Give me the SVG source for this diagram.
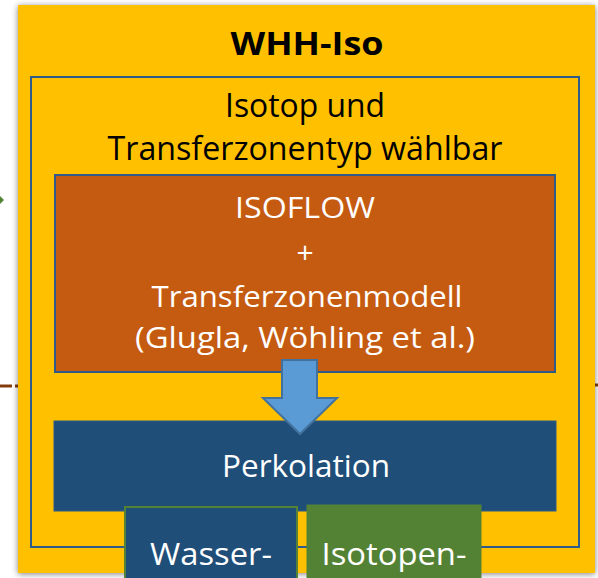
<svg xmlns="http://www.w3.org/2000/svg" width="598" height="578" viewBox="0 0 598 578">
<style>
  .t { font-family: "Open Sans", "Liberation Sans", sans-serif; text-anchor: middle; }
  .dark { fill: #000000; }
  .light { fill: #ffffff; }
</style>
<defs>
  <filter id="sh" x="-5%" y="-5%" width="110%" height="110%">
    <feGaussianBlur in="SourceAlpha" stdDeviation="3"/>
    <feOffset dx="0" dy="1"/>
    <feComponentTransfer><feFuncA type="linear" slope="0.5"/></feComponentTransfer>
    <feMerge><feMergeNode/><feMergeNode in="SourceGraphic"/></feMerge>
  </filter>
</defs>
<rect width="598" height="578" fill="#ffffff"/>
<g id="connectors-outside">
  <line x1="0" y1="386" x2="12" y2="386" stroke="#843C0C" stroke-width="3"/>
  <line x1="15" y1="386" x2="18" y2="386" stroke="#843C0C" stroke-width="3"/>
  <line x1="594" y1="385" x2="598" y2="385" stroke="#843C0C" stroke-width="3"/>
  <polygon points="0,196 4,200 0,204" fill="#548235"/>
</g>
<g id="whh-iso">
  <rect x="18" y="5" width="577" height="568" fill="#FFC000" filter="url(#sh)"/>
  <text class="t dark" x="307" y="55" font-size="33" font-weight="bold" textLength="153" lengthAdjust="spacingAndGlyphs">WHH-Iso</text>
</g>
<g id="isotop-box">
  <rect x="31" y="77" width="548" height="470" fill="none" stroke="#2F5B8A" stroke-width="2"/>
  <text class="t dark" x="305" y="117" font-size="32" textLength="160" lengthAdjust="spacingAndGlyphs">Isotop und</text>
  <text class="t dark" x="305" y="160" font-size="32" textLength="395" lengthAdjust="spacingAndGlyphs">Transferzonentyp wählbar</text>
</g>
<g id="isoflow">
  <rect x="55" y="175" width="500" height="197" fill="#C55A11" stroke="#2F5B8A" stroke-width="2"/>
  <text class="t light" x="305" y="218" font-size="30" textLength="140" lengthAdjust="spacingAndGlyphs">ISOFLOW</text>
  <text class="t light" x="305" y="263" font-size="30">+</text>
  <text class="t light" x="307" y="307" font-size="30" textLength="311" lengthAdjust="spacingAndGlyphs">Transferzonenmodell</text>
  <text class="t light" x="305" y="348" font-size="30" textLength="340" lengthAdjust="spacingAndGlyphs">(Glugla, Wöhling et al.)</text>
</g>
<g id="perkolation">
  <rect x="54" y="421" width="502" height="90" fill="#1F4E79" stroke="#2F5B8A" stroke-width="1"/>
  <text class="t light" x="306" y="477" font-size="31" textLength="168" lengthAdjust="spacingAndGlyphs">Perkolation</text>
</g>
<g id="connectors">
  <polygon points="282,360 317,360 317,398 337,398 300,434 263,398 282,398" fill="#5B9BD5" stroke="#41719C" stroke-width="2" stroke-linejoin="miter"/>
</g>
<g id="wasser">
  <rect x="125" y="507" width="172" height="80" fill="#1F4E79" stroke="#548235" stroke-width="2"/>
  <text class="t light" x="211" y="565" font-size="31" textLength="122" lengthAdjust="spacingAndGlyphs">Wasser-</text>
</g>
<g id="isotopen">
  <rect x="307" y="505" width="174" height="80" fill="#548235" stroke="#548235" stroke-width="1"/>
  <text class="t light" x="394" y="565" font-size="31" textLength="145" lengthAdjust="spacingAndGlyphs">Isotopen-</text>
</g>
</svg>
